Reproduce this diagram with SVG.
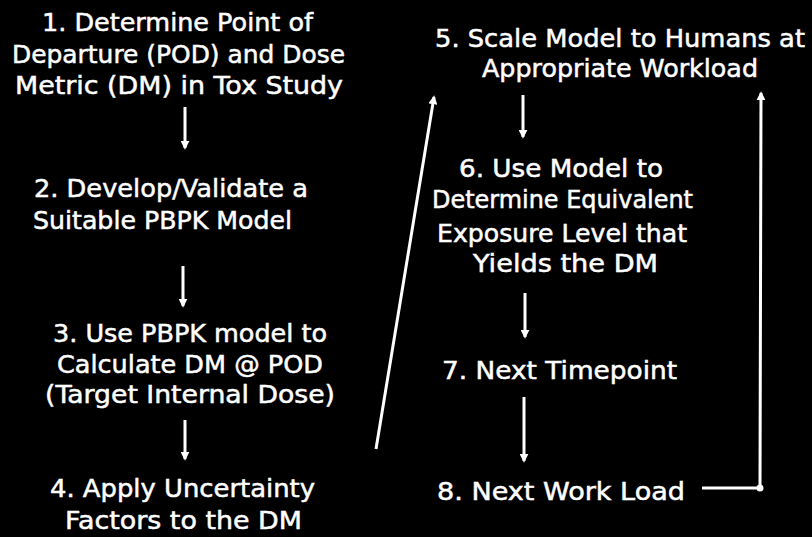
<svg xmlns="http://www.w3.org/2000/svg" width="812" height="537" viewBox="0 0 812 537">
<defs>
<style>
text{font-family:"DejaVu Sans","Liberation Sans",sans-serif;font-size:24px;fill:#fff;stroke:#fff;stroke-width:0.5;}
.c{stroke:#fff;stroke-width:3;fill:none;}
</style>
<marker id="ah" viewBox="0 0 10 10" refX="8" refY="5" markerWidth="3" markerHeight="3" orient="auto" markerUnits="strokeWidth">
<path d="M0,0 L10,5 L0,10 Z" fill="#fff"/>
</marker>
</defs>
<rect width="812" height="537" fill="#000"/>
<g id="n1">
<text x="42" y="31" textLength="271" lengthAdjust="spacingAndGlyphs">1. Determine Point of</text>
<text x="12" y="63" textLength="333" lengthAdjust="spacingAndGlyphs">Departure (POD) and Dose</text>
<text x="15" y="94" textLength="328" lengthAdjust="spacingAndGlyphs">Metric (DM) in Tox Study</text>
</g>
<g id="n2">
<text x="34" y="197" textLength="274" lengthAdjust="spacingAndGlyphs">2. Develop/Validate a</text>
<text x="33" y="229" textLength="259" lengthAdjust="spacingAndGlyphs">Suitable PBPK Model</text>
</g>
<g id="n3">
<text x="53" y="342" textLength="274" lengthAdjust="spacingAndGlyphs">3. Use PBPK model to</text>
<text x="57" y="373" textLength="266" lengthAdjust="spacingAndGlyphs">Calculate DM @ POD</text>
<text x="45" y="403" textLength="290" lengthAdjust="spacingAndGlyphs">(Target Internal Dose)</text>
</g>
<g id="n4">
<text x="50" y="497" textLength="265" lengthAdjust="spacingAndGlyphs">4. Apply Uncertainty</text>
<text x="65" y="529" textLength="237" lengthAdjust="spacingAndGlyphs">Factors to the DM</text>
</g>
<g id="n5">
<text x="435" y="47" textLength="370" lengthAdjust="spacingAndGlyphs">5. Scale Model to Humans at</text>
<text x="482" y="77" textLength="276" lengthAdjust="spacingAndGlyphs">Appropriate Workload</text>
</g>
<g id="n6">
<text x="459" y="177" textLength="204" lengthAdjust="spacingAndGlyphs">6. Use Model to</text>
<text x="432" y="208" textLength="261" lengthAdjust="spacingAndGlyphs">Determine Equivalent</text>
<text x="437" y="242" textLength="250" lengthAdjust="spacingAndGlyphs">Exposure Level that</text>
<text x="473" y="272" textLength="185" lengthAdjust="spacingAndGlyphs">Yields the DM</text>
</g>
<g id="n7">
<text x="442" y="379" textLength="235" lengthAdjust="spacingAndGlyphs">7. Next Timepoint</text>
</g>
<g id="n8">
<text x="437" y="500" textLength="248" lengthAdjust="spacingAndGlyphs">8. Next Work Load</text>
</g>
<g id="connectors">
<line class="c" x1="185" y1="107" x2="185" y2="148" marker-end="url(#ah)"/>
<line class="c" x1="183" y1="266" x2="183" y2="306" marker-end="url(#ah)"/>
<line class="c" x1="185" y1="420" x2="185" y2="459" marker-end="url(#ah)"/>
<line class="c" x1="523" y1="95" x2="523" y2="137" marker-end="url(#ah)"/>
<line class="c" x1="525" y1="293" x2="525" y2="337" marker-end="url(#ah)"/>
<line class="c" x1="524" y1="397" x2="524" y2="461" marker-end="url(#ah)"/>
<line class="c" x1="376" y1="449" x2="434" y2="97" marker-end="url(#ah)"/>
<polyline class="c" points="702,488 760,488 761,93" marker-end="url(#ah)"/>
<circle cx="760" cy="488" r="3.5" fill="#fff"/>
</g>
</svg>
